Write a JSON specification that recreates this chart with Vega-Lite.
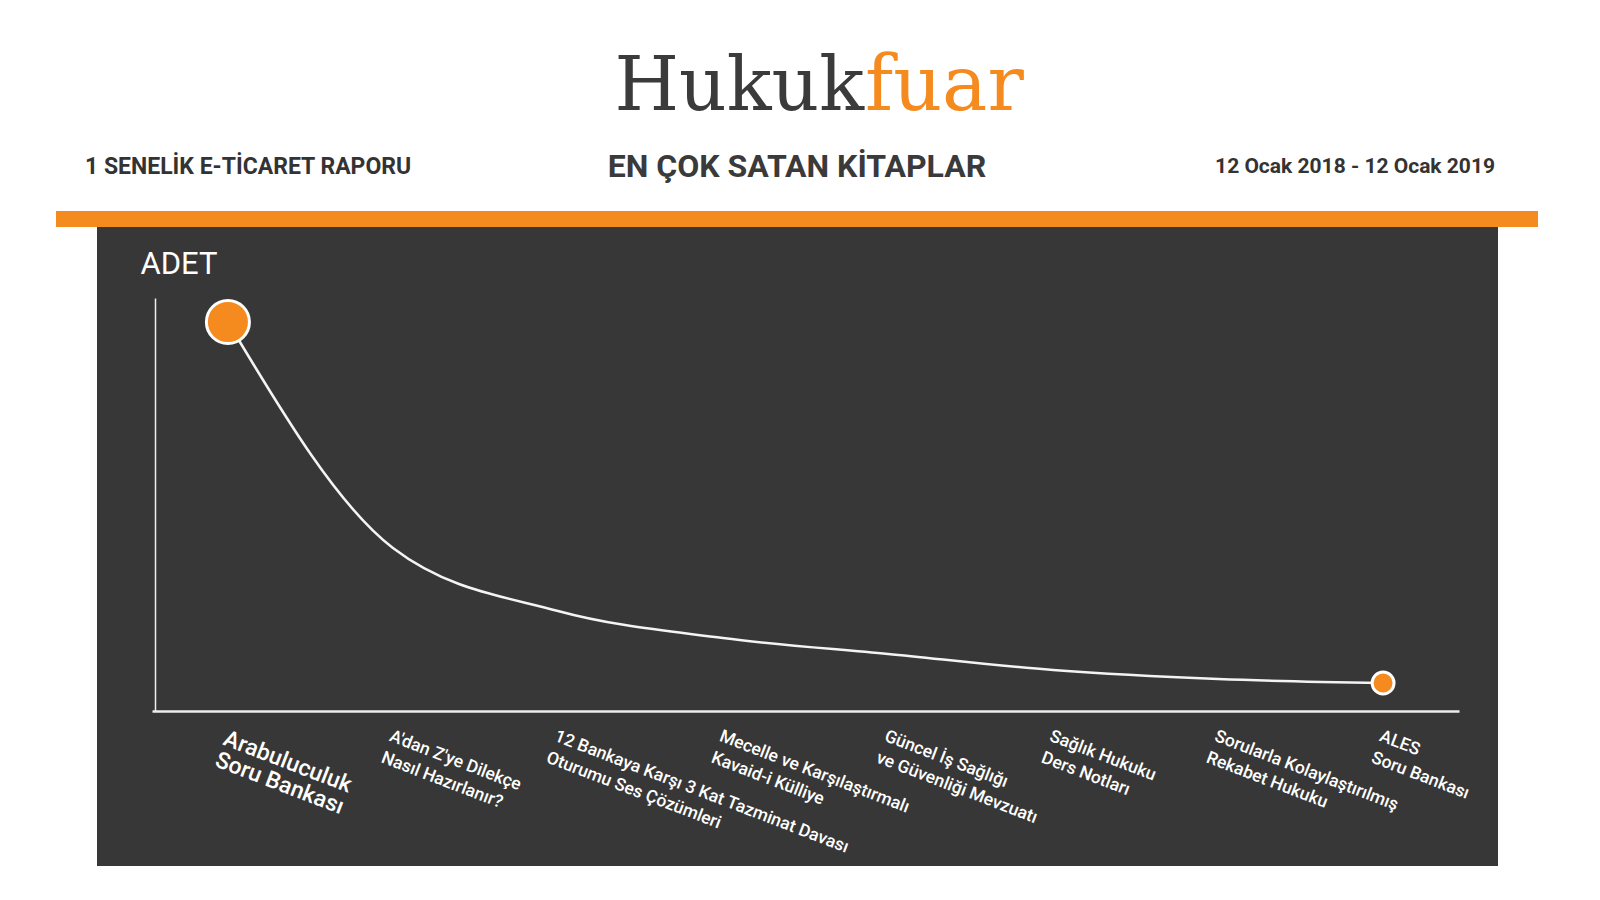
{
  "$schema": "https://vega.github.io/schema/vega-lite/v6.json",
  "width": 1401,
  "height": 639,
  "autosize": "none",
  "padding": {"left": 97, "top": 227, "right": 102, "bottom": 34},
  "background": "white",
  "config": {"view": {"fill": "#373737", "stroke": null}},
  "datasets": {
    "kitaplar": [
      {"sira": 1, "kitap": "Arabuluculuk|Soru Bankası", "adet": 389},
      {"sira": 2, "kitap": "A'dan Z'ye Dilekçe|Nasıl Hazırlanır?", "adet": 163},
      {"sira": 3, "kitap": "12 Bankaya Karşı 3 Kat Tazminat Davası|Oturumu Ses Çözümleri", "adet": 100},
      {"sira": 4, "kitap": "Mecelle ve Karşılaştırmalı|Kavaid-i Külliye", "adet": 73},
      {"sira": 5, "kitap": "Güncel İş Sağlığı|ve Güvenliği Mevzuatı", "adet": 57},
      {"sira": 6, "kitap": "Sağlık Hukuku|Ders Notları", "adet": 41},
      {"sira": 7, "kitap": "Sorularla Kolaylaştırılmış|Rekabet Hukuku", "adet": 32},
      {"sira": 8, "kitap": "ALES|Soru Bankası", "adet": 28}
    ]
  },
  "layer": [
    {
      "data": {"values": [{"band": "turuncu"}]},
      "mark": {"type": "rect", "color": "#F58A1F"},
      "encoding": {
        "x": {"value": -41},
        "x2": {"value": 1441},
        "y": {"value": -16},
        "y2": {"value": 0}
      }
    },
    {
      "data": {"values": [{"t": "1 SENELİK  E-TİCARET RAPORU"}]},
      "mark": {"type": "text", "align": "left", "baseline": "middle", "font": "Roboto", "fontSize": 23, "fontWeight": "bold", "color": "#333333"},
      "encoding": {"text": {"field": "t"}, "x": {"value": -12}, "y": {"value": -60}}
    },
    {
      "data": {"values": [{"t": "EN ÇOK SATAN KİTAPLAR"}]},
      "mark": {"type": "text", "align": "center", "baseline": "middle", "font": "Roboto", "fontSize": 32, "fontWeight": "bold", "color": "#3a3a3a"},
      "encoding": {"text": {"field": "t"}, "x": {"value": 700}, "y": {"value": -60}}
    },
    {
      "data": {"values": [{"t": "12 Ocak 2018 - 12 Ocak 2019"}]},
      "mark": {"type": "text", "align": "right", "baseline": "middle", "font": "Roboto", "fontSize": 21, "fontWeight": "bold", "color": "#333333"},
      "encoding": {"text": {"field": "t"}, "x": {"value": 1398}, "y": {"value": -60}}
    },
    {
      "data": {"values": [{"t": "Hukuk"}]},
      "mark": {"type": "text", "align": "right", "baseline": "alphabetic", "font": "DejaVu Serif", "fontSize": 74, "color": "#3b3b3b"},
      "encoding": {"text": {"field": "t"}, "x": {"value": 767}, "y": {"value": -117}}
    },
    {
      "data": {"values": [{"t": "fuar"}]},
      "mark": {"type": "text", "align": "left", "baseline": "alphabetic", "font": "DejaVu Serif", "fontSize": 76, "color": "#F58A1F"},
      "encoding": {"text": {"field": "t"}, "x": {"value": 768}, "y": {"value": -117}}
    },
    {
      "data": {"name": "kitaplar"},
      "mark": {"type": "line", "color": "#f4f4f4", "strokeWidth": 2.5, "interpolate": "monotone"},
      "encoding": {
        "x": {
          "field": "kitap", "type": "ordinal", "sort": null,
          "scale": {"type": "point", "range": [55, 1362], "padding": 0.46},
          "axis": {
            "title": null,
            "offset": -155,
            "domainColor": "#eeeeee",
            "domainWidth": 2.5,
            "ticks": false,
            "tickSize": 0,
            "grid": false,
            "labelExpr": "split(datum.value, '|')",
            "labelAngle": 21,
            "labelAlign": "left",
            "labelBaseline": "top",
            "labelPadding": 16,
            "labelDx": -19,
            "labelColor": "#ffffff",
            "labelFont": "Roboto",
            "labelFontWeight": 500,
            "labelFontSize": {"condition": {"test": "datum.value == 'Arabuluculuk|Soru Bankası'", "value": 23}, "value": 17.5},
            "labelLineHeight": 23,
            "labelOverlap": false,
            "labelLimit": 0,
            "labelBound": false
          }
        },
        "y": {
          "field": "adet", "type": "quantitative",
          "scale": {"domain": [0, 413], "range": [484, 71], "nice": false, "zero": true},
          "axis": {
            "title": "ADET",
            "offset": -58,
            "domainColor": "#eeeeee",
            "domainWidth": 1.5,
            "ticks": false,
            "labels": false,
            "grid": false,
            "titleAngle": 0,
            "titleAlign": "left",
            "titleBaseline": "middle",
            "titleX": -15,
            "titleY": 37,
            "titleColor": "#ffffff",
            "titleFont": "Roboto",
            "titleFontSize": 31,
            "titleFontWeight": "normal"
          }
        }
      }
    },
    {
      "data": {"name": "kitaplar"},
      "transform": [{"filter": "datum.sira == 1 || datum.sira == 8"}],
      "mark": {"type": "point", "shape": "circle", "filled": true, "fill": "#F58A1F", "stroke": "#ffffff", "strokeWidth": 3, "opacity": 1},
      "encoding": {
        "x": {"field": "kitap", "type": "ordinal", "sort": null},
        "y": {"field": "adet", "type": "quantitative"},
        "size": {"condition": {"test": "datum.sira == 1", "value": 1850}, "value": 480}
      }
    }
  ]
}
